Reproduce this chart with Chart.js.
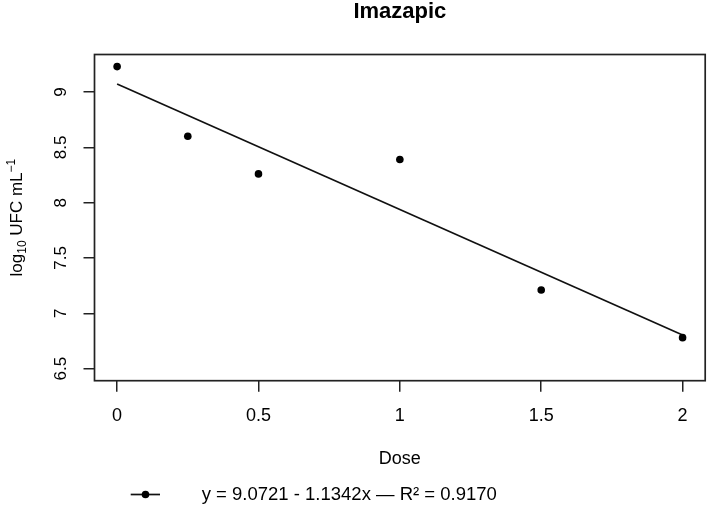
<!DOCTYPE html>
<html><head><meta charset="utf-8">
<script src="https://cdn.jsdelivr.net/npm/chart.js@4.4.0/dist/chart.umd.min.js"></script>
<style>html,body{margin:0;padding:0;background:#fff;} #wrap{width:709px;height:506px;}</style>
</head><body>
<div id="wrap"><canvas id="c" width="709" height="506"></canvas></div>
<script>
const chartTitle = 'Imazapic';
const doses = [0, 0.25, 0.5, 1, 1.5, 2];
const logUFC = [9.23, 8.60, 8.26, 8.39, 7.21, 6.78];
const fitDoses = [0, 2];
const fitValues = [9.0721, 6.8037];
const xTickValues = [0, 0.5, 1, 1.5, 2];
const yTickValues = [6.5, 7, 7.5, 8, 8.5, 9];
const xTitle = 'Dose';
const yTitleParts = [['log', ''], ['10', 'sub'], [' UFC mL', ''], ['\u22121', 'sup']];
const legendLabel = 'y = 9.0721 - 1.1342x \u2014 R\u00b2 = 0.9170';

const FONT = '"Liberation Sans", Arial, Helvetica, sans-serif';

const decor = {
  id: 'decor',
  afterDraw(chart) {
    const {ctx, chartArea: a} = chart;
    ctx.save();
    // box
    ctx.strokeStyle = '#222';
    ctx.lineWidth = 1.7;
    ctx.strokeRect(a.left, a.top, a.right - a.left, a.bottom - a.top);
    // title
    ctx.fillStyle = '#000';
    ctx.font = 'bold 22px ' + FONT;
    ctx.textAlign = 'center';
    ctx.textBaseline = 'alphabetic';
    ctx.fillText(chartTitle, (a.left + a.right) / 2, 17.5);
    // y title with sub/superscripts
    ctx.save();
    ctx.translate(21.5, (a.top + a.bottom) / 2);
    ctx.rotate(-Math.PI / 2);
    ctx.textAlign = 'left';
    const mainF = '17px ' + FONT, smallF = '12px ' + FONT;
    let total = 0;
    const widths = yTitleParts.map(([t, k]) => {
      ctx.font = k ? smallF : mainF;
      const w = ctx.measureText(t).width;
      total += w;
      return w;
    });
    let x = -total / 2;
    yTitleParts.forEach(([t, k], i) => {
      ctx.font = k ? smallF : mainF;
      const dy = k === 'sub' ? 4 : (k === 'sup' ? -7 : 0);
      ctx.fillText(t, x, dy);
      x += widths[i];
    });
    ctx.restore();
    // legend
    const ly = 494.5;
    ctx.strokeStyle = '#111';
    ctx.lineWidth = 1.7;
    ctx.beginPath();
    ctx.moveTo(130.7, ly);
    ctx.lineTo(160, ly);
    ctx.stroke();
    ctx.beginPath();
    ctx.arc(145.5, ly, 3.8, 0, Math.PI * 2);
    ctx.fill();
    ctx.font = '18.5px ' + FONT;
    ctx.textAlign = 'left';
    ctx.textBaseline = 'middle';
    ctx.fillText(legendLabel, 201.7, ly);
    ctx.restore();
  }
};

const gridOpts = {drawOnChartArea: false, drawTicks: true, tickLength: 11, color: '#222', lineWidth: 1.5};

new Chart(document.getElementById('c'), {
  type: 'scatter',
  data: {
    datasets: [
      {
        label: 'obs',
        data: doses.map((d, i) => ({x: d, y: logUFC[i]})),
        showLine: false,
        pointRadius: 3.8,
        pointHoverRadius: 3.8,
        backgroundColor: '#000',
        borderColor: '#000',
        borderWidth: 0
      },
      {
        label: 'fit',
        data: fitDoses.map((d, i) => ({x: d, y: fitValues[i]})),
        showLine: true,
        pointRadius: 0,
        borderColor: '#111',
        borderWidth: 1.7,
        fill: false
      }
    ]
  },
  plugins: [decor],
  options: {
    responsive: false,
    devicePixelRatio: 1,
    animation: false,
    layout: {padding: {top: 54.5, left: 0, right: 2.3, bottom: 0}},
    plugins: {legend: {display: false}, tooltip: {enabled: false}, title: {display: false}},
    scales: {
      x: {
        type: 'linear', min: -0.08, max: 2.08,
        afterBuildTicks: s => { s.ticks = xTickValues.map(v => ({value: v})); },
        afterFit: s => { s.height = 125.3; },
        grid: gridOpts,
        border: {display: false},
        ticks: {padding: 13.2, color: '#000', font: {family: FONT, size: 18}, maxRotation: 0, autoSkip: false,
                callback: v => String(v)},
        title: {display: true, text: xTitle, color: '#000', font: {family: FONT, size: 18}, padding: {top: 0, bottom: 36.2}}
      },
      y: {
        type: 'linear', min: 6.3908, max: 9.3392,
        afterBuildTicks: s => { s.ticks = yTickValues.map(v => ({value: v})); },
        afterFit: s => { s.width = 94.5; },
        grid: gridOpts,
        border: {display: false},
        ticks: {padding: 10, color: '#000', font: {family: FONT, size: 17}, minRotation: 90, maxRotation: 90,
                crossAlign: 'center', autoSkip: false, callback: v => String(v)}
      }
    }
  }
});
</script>
</body></html>
